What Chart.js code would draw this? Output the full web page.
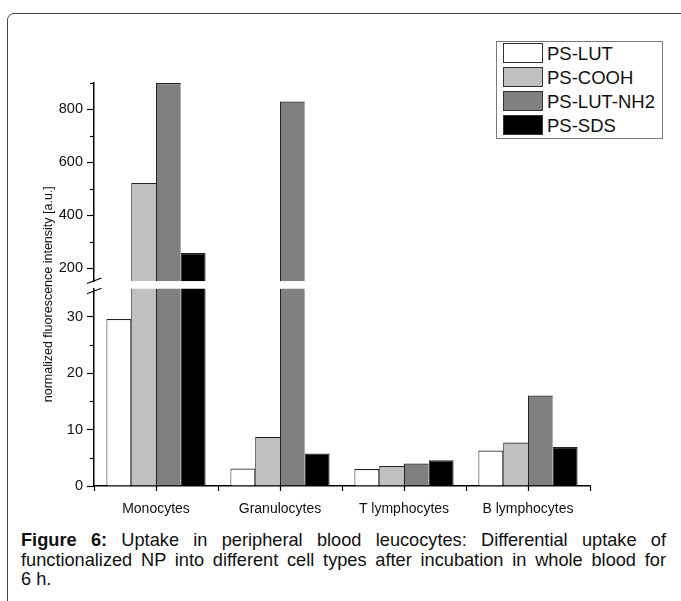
<!DOCTYPE html>
<html>
<head>
<meta charset="utf-8">
<script src="https://cdn.jsdelivr.net/npm/chart.js@4.4.1/dist/chart.umd.min.js"></script>
<style>
html, body { margin:0; padding:0; background:#fff; width:681px; height:601px; overflow:hidden; font-family:"Liberation Sans", Arial, sans-serif; color:#000; }
#frame { position:absolute; left:7px; top:13px; width:720px; height:640px; border:1px solid #444; border-top-left-radius:7px; box-sizing:border-box; }
#wrap { position:absolute; left:0; top:0; width:681px; height:530px; }
#legend { position:absolute; left:496px; top:41px; width:167px; height:98px; border:1px solid #7a7a7a; box-sizing:border-box; background:#fff; }
.item { position:absolute; left:6px; width:155px; height:20px; }
.sw { position:absolute; left:0; top:0; width:40px; height:20px; box-sizing:border-box; border:1.5px solid #333; }
.lt { position:absolute; left:44px; top:1px; font-size:18.5px; line-height:20px; white-space:nowrap; color:#111; }
#caption { position:absolute; left:21px; top:531px; width:645px; font-size:18.2px; line-height:19.5px; color:#111; }
.ln { display:block; text-align:justify; text-align-last:justify; white-space:nowrap; }
.ln.last { text-align:left; text-align-last:left; }
</style>
</head>
<body>
<div id="frame"></div>
<div id="wrap"><canvas id="chart"></canvas></div>
<div id="legend"></div>
<div id="caption">
  <span class="ln"><b>Figure 6:</b> Uptake in peripheral blood leucocytes: Differential uptake of</span>
  <span class="ln">functionalized NP into different cell types after incubation in whole blood for</span>
  <span class="ln last">6 h.</span>
</div>
<script>
const categories = ['Monocytes', 'Granulocytes', 'T lymphocytes', 'B lymphocytes'];
const seriesNames = ['PS-LUT', 'PS-COOH', 'PS-LUT-NH2', 'PS-SDS'];
const psLut    = [29.6, 3.1, 3.0, 6.3];
const psCooh   = [522, 8.7, 3.55, 7.7];
const psLutNh2 = [900, 830, 4.0, 16.05];
const psSds    = [257, 5.75, 4.55, 6.9];
const seriesValues = [psLut, psCooh, psLutNh2, psSds];
const fillColors = ['#ffffff', '#c0c0c0', '#808080', '#000000'];
const lowerRange = [0, 35];
const upperRange = [150, 900];
const lowerTickValues = [0, 5, 10, 15, 20, 25, 30];
const lowerTickLabels = ['0', '', '10', '', '20', '', '30'];
const upperTickValues = [200, 300, 400, 500, 600, 700, 800, 900];
const upperTickLabels = ['200', '', '400', '', '600', '', '800', ''];
const yTitle = 'normalized fluorescence intensity [a.u.]';

const FONT = '"Liberation Sans", Arial, sans-serif';

// legend (HTML) built from series
const legendEl = document.getElementById('legend');
seriesNames.forEach((name, i) => {
  const it = document.createElement('div');
  it.className = 'item';
  it.style.top = (1.3 + 24 * i) + 'px';
  const sw = document.createElement('div');
  sw.className = 'sw';
  sw.style.background = fillColors[i];
  const lt = document.createElement('div');
  lt.className = 'lt';
  lt.textContent = name;
  it.appendChild(sw); it.appendChild(lt);
  legendEl.appendChild(it);
});

const datasets = [];
['y', 'y2'].forEach(axisId => {
  seriesNames.forEach((name, i) => {
    datasets.push({
      label: name,
      data: seriesValues[i],
      yAxisID: axisId,
      stack: 's' + i,
      backgroundColor: fillColors[i],
      borderColor: '#222',
      borderWidth: { top: 1.2, left: 1, right: (i === 0 || i === 3) ? 1 : 0, bottom: 0 },
      borderSkipped: false,
      clip: 0,
      categoryPercentage: 0.8,
      barPercentage: 1.0
    });
  });
});

function tickSetter(values) {
  return function (scale) { scale.ticks = values.map(v => ({ value: v })); };
}

const clipPlugin = {
  id: 'scaleClip',
  beforeDatasetDraw(chart, args) {
    const sc = chart.scales[args.meta.yAxisID];
    const ctx = chart.ctx;
    ctx.save();
    ctx.beginPath();
    ctx.rect(chart.chartArea.left, sc.top, chart.chartArea.right - chart.chartArea.left, sc.bottom - sc.top);
    ctx.clip();
  },
  afterDatasetDraw(chart) { chart.ctx.restore(); }
};

const decoPlugin = {
  id: 'deco',
  afterDraw(chart) {
    const ctx = chart.ctx;
    const y = chart.scales.y, y2 = chart.scales.y2, x = chart.scales.x;
    const axisX = y.right;
    ctx.save();
    ctx.strokeStyle = '#000';
    ctx.lineWidth = 1.2;
    // minor y ticks
    [[y, lowerTickValues, lowerTickLabels], [y2, upperTickValues, upperTickLabels]].forEach(([sc, vals, labs]) => {
      vals.forEach((v, i) => {
        if (labs[i] !== '') return;
        const py = Math.round(sc.getPixelForValue(v)) + 0.5;
        ctx.beginPath(); ctx.moveTo(axisX - 4, py); ctx.lineTo(axisX, py); ctx.stroke();
      });
    });
    // x center ticks
    categories.forEach((c, i) => {
      const px = Math.round(x.getPixelForValue(i)) + 0.5;
      ctx.beginPath(); ctx.moveTo(px, x.top); ctx.lineTo(px, x.top + 5); ctx.stroke();
    });
    // break marks
    ctx.lineWidth = 1.1;
    [y2.bottom - 0.5, y.top + 2.5].forEach(cy => {
      ctx.beginPath(); ctx.moveTo(axisX - 7, cy + 2.7); ctx.lineTo(axisX + 7.5, cy - 2.7); ctx.stroke();
    });
    // y title
    ctx.fillStyle = '#111';
    ctx.font = '12.5px ' + FONT;
    ctx.textAlign = 'center';
    ctx.textBaseline = 'alphabetic';
    ctx.translate(52.3, 294.2);
    ctx.rotate(-Math.PI / 2);
    ctx.fillText(yTitle, 0, 0);
    ctx.restore();
  }
};

const yCommon = {
  position: 'left',
  stack: 'v',
  stacked: false,
  afterFit(scale) { scale.width = 40; },
  grid: {
    display: true, drawOnChartArea: false, drawTicks: true, tickLength: 7,
    tickWidth: 1.2,
    tickColor: (ctx) => (ctx.tick && ctx.tick.label === '') ? 'rgba(0,0,0,0)' : '#000'
  },
  border: { display: true, color: '#000', width: 1.5 },
  ticks: { padding: 4, color: '#111', font: { family: FONT, size: 14.5 }, autoSkip: false }
};

new Chart(document.getElementById('chart'), {
  type: 'bar',
  data: { labels: categories, datasets: datasets },
  options: {
    responsive: true,
    maintainAspectRatio: false,
    animation: false,
    layout: { padding: { top: 83, right: 91, bottom: 14, left: 54 } },
    plugins: { legend: { display: false }, tooltip: { enabled: false } },
    scales: {
      x: {
        type: 'category',
        afterFit(scale) { scale.height = 30; },
        grid: { display: true, offset: true, drawOnChartArea: false, drawTicks: true, tickLength: 5, tickColor: '#000', tickWidth: 1.2 },
        border: { display: true, color: '#000', width: 1.5 },
        ticks: { padding: 10, color: '#111', font: { family: FONT, size: 14 }, maxRotation: 0 }
      },
      y: Object.assign({}, yCommon, {
        min: lowerRange[0], max: lowerRange[1], stackWeight: 197.2,
        afterBuildTicks: tickSetter(lowerTickValues),
        ticks: Object.assign({}, yCommon.ticks, { callback: (v, i) => lowerTickLabels[i] })
      }),
      ygap: {
        type: 'linear', position: 'left', stack: 'v', stackWeight: 7.3, display: false,
        min: 0, max: 1
      },
      y2: Object.assign({}, yCommon, {
        min: upperRange[0], max: upperRange[1], stackWeight: 198,
        afterBuildTicks: tickSetter(upperTickValues),
        ticks: Object.assign({}, yCommon.ticks, { callback: (v, i) => upperTickLabels[i] })
      })
    }
  },
  plugins: [clipPlugin, decoPlugin]
});
</script>
</body>
</html>
